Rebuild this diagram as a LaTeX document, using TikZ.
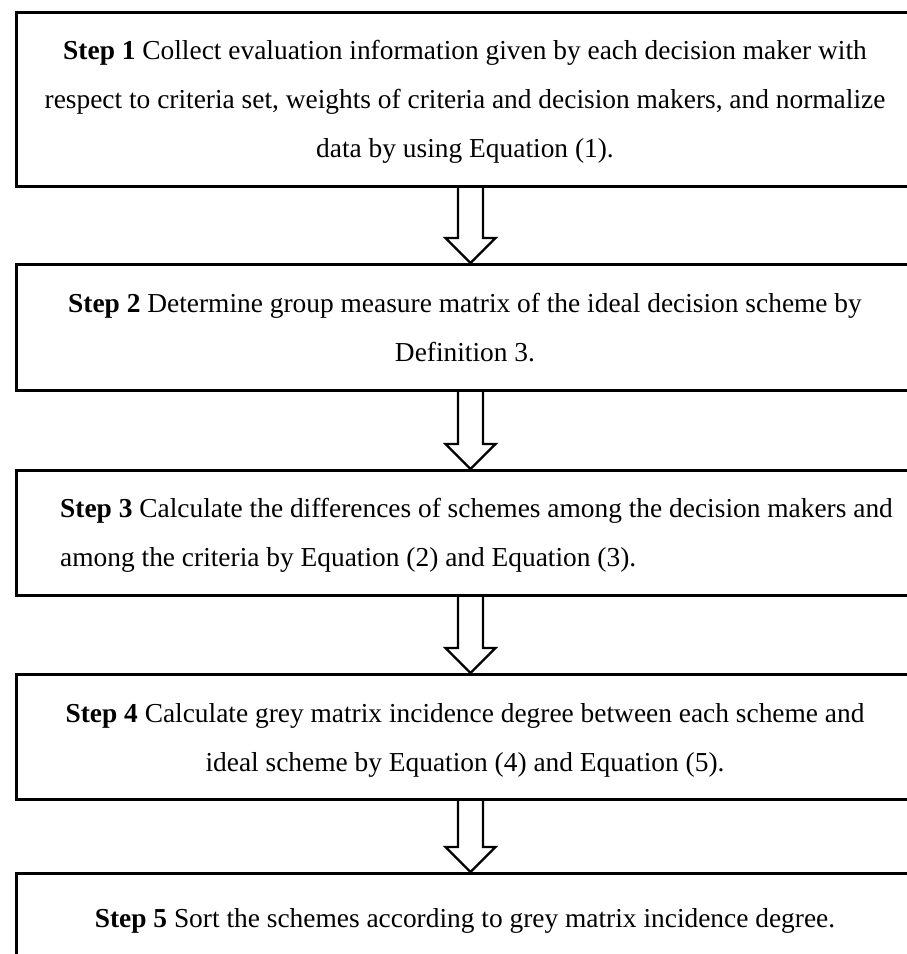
\documentclass[tikz,border=0pt]{standalone}
\usepackage{fontspec}
\setmainfont{Liberation Serif}
\usetikzlibrary{calc}
\tikzset{
  stepbox/.style={draw=black, line width=3pt, rectangle, anchor=north west, minimum width=908pt, inner sep=0pt},
  txt/.style={anchor=base, inner sep=0pt, font=\fontsize{27.4pt}{34pt}\selectfont},
  txtl/.style={anchor=base west, inner sep=0pt, font=\fontsize{27.4pt}{34pt}\selectfont},
  blockarr/.style={draw=black, line width=2.4pt, line join=miter, fill=white}
}
\newcommand\stepflow[2]{%
  \draw[blockarr] let \p1=(#1.south), \p2=(#2.north) in
    (\x1-12.5pt,\y1) -- (\x1-12.5pt,\y2+25pt) -- (\x1-25pt,\y2+25pt) -- (\x1,\y2)
    -- (\x1+25pt,\y2+25pt) -- (\x1+12.5pt,\y2+25pt) -- (\x1+12.5pt,\y1);}
\begin{document}
\begin{tikzpicture}[x=1pt,y=-1pt]
\useasboundingbox (0,0) rectangle (907,954);
\clip (0,0) rectangle (907,954);
\fill[white] (0,0) rectangle (907,954);
% boxes
\node[stepbox, minimum height=174pt] (b1) at (15,11) {};
\node[stepbox, minimum height=126pt] (b2) at (15,263) {};
\node[stepbox, minimum height=125pt] (b3) at (15,469) {};
\node[stepbox, minimum height=125pt] (b4) at (15,673) {};
\node[stepbox, minimum height=140pt] (b5) at (15,872) {};
% texts
\node[txt] (t1a) at (465,59) {\textbf{Step 1} Collect evaluation information given by each decision maker with};
\node[txt] (t1b) at (465,108) {respect to criteria set, weights of criteria and decision makers, and normalize};
\node[txt] (t1c) at (465,157) {data by using Equation (1).};
\node[txt] (t2a) at (465,312) {\textbf{Step 2} Determine group measure matrix of the ideal decision scheme by};
\node[txt] (t2b) at (465,361) {Definition 3.};
\node[txtl] (t3a) at (60,517) {\textbf{Step 3} Calculate the differences of schemes among the decision makers and};
\node[txtl] (t3b) at (60,566) {among the criteria by Equation (2) and Equation (3).};
\node[txt] (t4a) at (465,722) {\textbf{Step 4} Calculate grey matrix incidence degree between each scheme and};
\node[txt] (t4b) at (465,771) {ideal scheme by Equation (4) and Equation (5).};
\node[txt] (t5a) at (465,927) {\textbf{Step 5} Sort the schemes according to grey matrix incidence degree.};
% arrows
\stepflow{b1}{b2}
\stepflow{b2}{b3}
\stepflow{b3}{b4}
\stepflow{b4}{b5}
\end{tikzpicture}
\end{document}
